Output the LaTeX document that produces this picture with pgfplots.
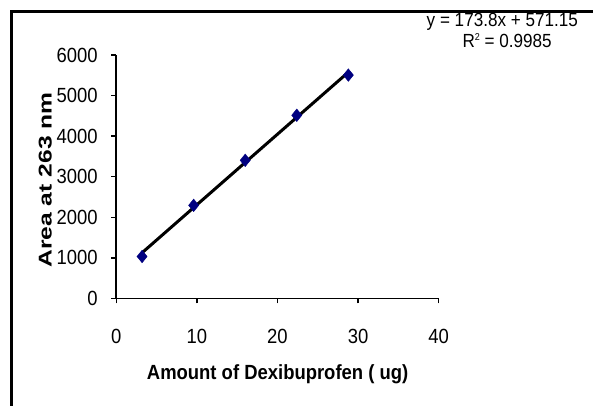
\documentclass[border=0pt]{standalone}
\usepackage{fontspec}
\setmainfont{Liberation Sans}[FakeStretch=0.9]
\newfontfamily\yfont{Liberation Sans}[FakeStretch=1.33]
\usepackage{pgfplots}
\pgfplotsset{compat=1.18}
\definecolor{mknavy}{RGB}{0,0,128}
\begin{document}
\begin{tikzpicture}
\path[use as bounding box] (0,0) rectangle (593bp,406bp);
\draw[line width=2.7bp] (11.3bp,-30bp) -- (11.3bp,394.7bp) -- (640bp,394.7bp);
\begin{axis}[
  at={(116.3bp,107.5bp)}, anchor=south west,
  scale only axis, width=322.3bp, height=243.5bp,
  xmin=0, xmax=40, ymin=0, ymax=6000,
  axis x line*=bottom, axis y line*=left,
  axis line style={-, line width=1.8bp, black},
  xtick={0,10,20,30,40}, ytick={0,1000,2000,3000,4000,5000,6000},
  tick align=outside, major tick length=5bp,
  tick style={line width=1.5bp, black},
  scaled ticks=false,
  /pgf/number format/1000 sep={},
  /pgf/number format/assume math mode=true,
  tick label style={font=\fontsize{20.5bp}{22bp}\selectfont},
  yticklabel style={anchor=east, inner sep=0pt, xshift=-13.4bp},
  xticklabel style={anchor=base, inner sep=0pt, yshift=-39.5bp},
  every axis x label/.style={at={(axis description cs:0.5005,-0.3347)}, anchor=base, inner sep=0pt},
  every axis y label/.style={at={(axis description cs:-0.2004,0.4867)}, rotate=90, anchor=base, inner sep=0pt},
  xlabel={\fontsize{20.5bp}{22bp}\selectfont\bfseries Amount of Dexibuprofen ( ug)},
  ylabel={\fontsize{18.5bp}{20bp}\selectfont\yfont\bfseries Area at 263 nm},
  clip=false,
]
\addplot[only marks, mark=diamond*, mark size=6.3bp, mark options={fill=mknavy, draw=mknavy, xscale=1.08}]
  coordinates {(3.2,1035) (9.6,2295) (16,3405) (22.4,4515) (28.8,5505)};
\addplot[black, line width=3bp] coordinates {(3.2,1127.3) (28.8,5576.6)};
\end{axis}
\node[anchor=base, inner sep=0pt, font=\fontsize{19bp}{20bp}\selectfont] at (502.3bp,379bp) {y = 173.8x + 571.15};
\node[anchor=base, inner sep=0pt, font=\fontsize{19bp}{20bp}\selectfont] at (507.2bp,358.5bp) {R\raisebox{0.36em}{\fontsize{10bp}{10bp}\selectfont 2} = 0.9985};
\end{tikzpicture}
\end{document}
